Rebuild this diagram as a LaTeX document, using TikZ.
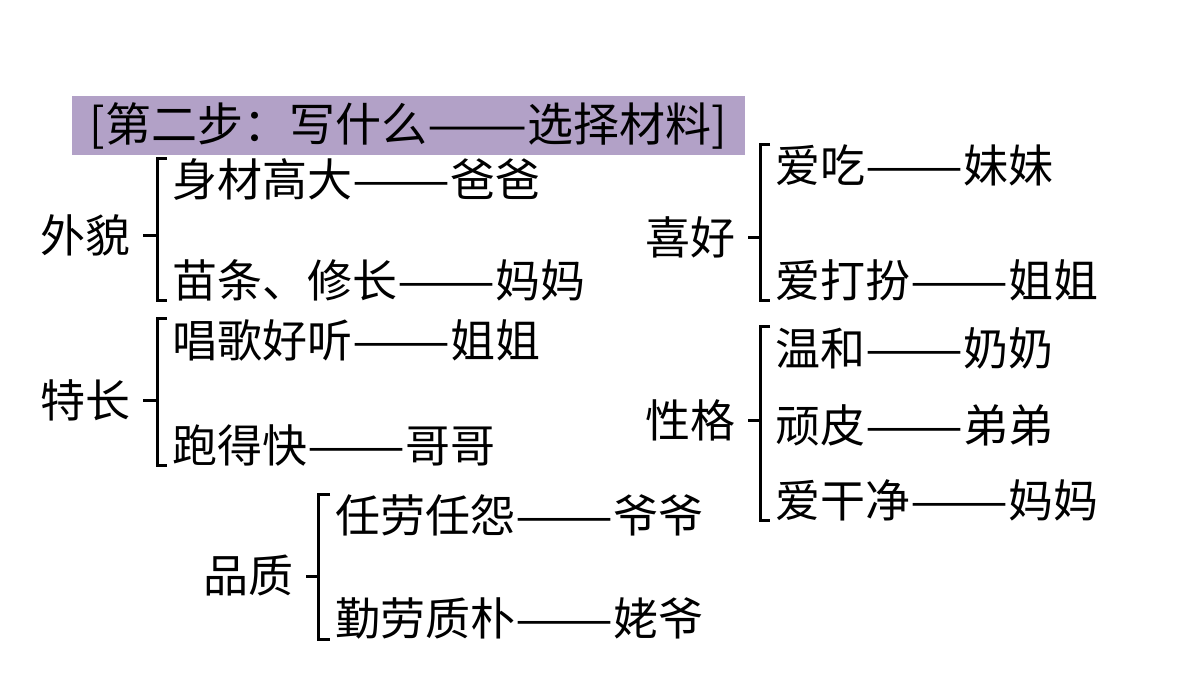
\documentclass[tikz,border=0pt]{standalone}
\usepackage{graphicx}
\usepackage{fontspec}
\setmainfont{Noto Sans CJK SC}
\usetikzlibrary{positioning, calc}
\definecolor{lilac}{RGB}{178,161,199}
\newcommand\longdash{\scalebox{1.3}[1]{——}}

\begin{document}
\begin{tikzpicture}[
  x=1pt, y=-1pt,
  title/.style={fill=lilac, minimum width=673pt, minimum height=59pt,
                inner sep=0pt, font=\fontsize{46}{50}\selectfont},
  cat/.style={inner sep=0pt, font=\fontsize{45}{50}\selectfont},
  item/.style={anchor=west, inner sep=0pt, font=\fontsize{45}{50}\selectfont},
  brk/.style={line width=3pt, black},
]
  \useasboundingbox (0,0) rectangle (1200,675);

  % Title bar
  \node[title] (title) at (408.5,125.5) {[第二步：写什么\longdash 选择材料]};

  % Left column
  \node[cat] (waimao) at (85,235) {外貌};
  \node[item] (waimao1) at (172,180) {身材高大\longdash 爸爸};
  \node[item] (waimao2) at (172,280) {苗条、修长\longdash 妈妈};

  \node[cat] (techang) at (85,400) {特长};
  \node[item] (techang1) at (172,340) {唱歌好听\longdash 姐姐};
  \node[item] (techang2) at (172,445) {跑得快\longdash 哥哥};

  \node[cat] (pinzhi) at (248,576) {品质};
  \node[item] (pinzhi1) at (335,515) {任劳任怨\longdash 爷爷};
  \node[item] (pinzhi2) at (335,618) {勤劳质朴\longdash 姥爷};

  % Right column
  \node[cat] (xihao) at (690,237) {喜好};
  \node[item] (xihao1) at (775,165) {爱吃\longdash 妹妹};
  \node[item] (xihao2) at (775,280) {爱打扮\longdash 姐姐};

  \node[cat] (xingge) at (690,420) {性格};
  \node[item] (xingge1) at (775,348) {温和\longdash 奶奶};
  \node[item] (xingge2) at (775,425) {顽皮\longdash 弟弟};
  \node[item] (xingge3) at (775,500) {爱干净\longdash 妈妈};

  % Brackets
  \coordinate (waimaoB) at ([xshift=-15pt]waimao1.west);
  \draw[brk] ([xshift=-5pt]waimao1.north west) -- (waimao1.north west -| waimaoB)
    -- (waimao2.south west -| waimaoB) -- ([xshift=-5pt]waimao2.south west);
  \draw[brk] ([xshift=13pt]waimao.east) -- (waimao.east -| waimaoB);

  \coordinate (techangB) at ([xshift=-15pt]techang1.west);
  \draw[brk] ([xshift=-5pt]techang1.north west) -- (techang1.north west -| techangB)
    -- (techang2.south west -| techangB) -- ([xshift=-5pt]techang2.south west);
  \draw[brk] ([xshift=13pt]techang.east) -- (techang.east -| techangB);

  \coordinate (pinzhiB) at ([xshift=-17pt]pinzhi1.west);
  \draw[brk] ([xshift=-5pt]pinzhi1.north west) -- (pinzhi1.north west -| pinzhiB)
    -- (pinzhi2.south west -| pinzhiB) -- ([xshift=-5pt]pinzhi2.south west);
  \draw[brk] ([xshift=13pt]pinzhi.east) -- (pinzhi.east -| pinzhiB);

  \coordinate (xihaoB) at ([xshift=-15pt]xihao1.west);
  \draw[brk] ([xshift=-5pt]xihao1.north west) -- (xihao1.north west -| xihaoB)
    -- (xihao2.south west -| xihaoB) -- ([xshift=-5pt]xihao2.south west);
  \draw[brk] ([xshift=13pt]xihao.east) -- (xihao.east -| xihaoB);

  \coordinate (xinggeB) at ([xshift=-15pt]xingge1.west);
  \draw[brk] ([xshift=-5pt]xingge1.north west) -- (xingge1.north west -| xinggeB)
    -- (xingge3.south west -| xinggeB) -- ([xshift=-5pt]xingge3.south west);
  \draw[brk] ([xshift=13pt]xingge.east) -- (xingge.east -| xinggeB);
\end{tikzpicture}
\end{document}
